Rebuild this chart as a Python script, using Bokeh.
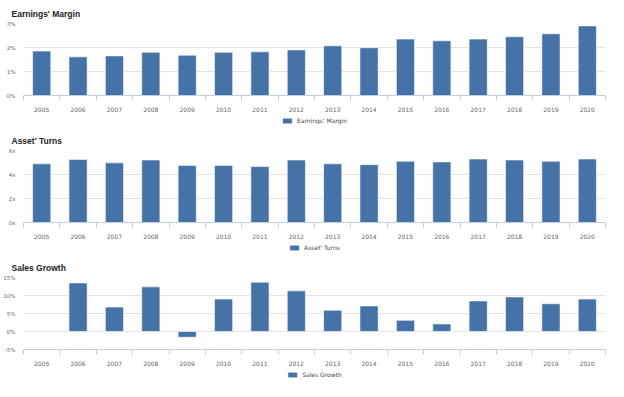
import numpy as np
from bokeh.plotting import figure
from bokeh.layouts import column
from bokeh.models import (Range1d, FixedTicker, PrintfTickFormatter, Legend, LegendItem)
from bokeh.embed import file_html
from bokeh.resources import INLINE

years = ["2005", "2006", "2007", "2008", "2009", "2010", "2011", "2012",
         "2013", "2014", "2015", "2016", "2017", "2018", "2019", "2020"]
earnings_margin = [1.85, 1.61, 1.65, 1.80, 1.68, 1.80, 1.82, 1.90,
                   2.07, 1.99, 2.35, 2.28, 2.35, 2.45, 2.57, 2.90]
asset_turns = [4.89, 5.26, 4.97, 5.21, 4.76, 4.76, 4.66, 5.21,
               4.89, 4.82, 5.10, 5.05, 5.29, 5.21, 5.10, 5.29]
sales_growth = [float("nan"), 13.5, 6.8, 12.4, -1.6, 9.0, 13.7, 11.3,
                5.9, 7.1, 3.1, 2.1, 8.5, 9.6, 7.7, 9.0]

panels = [
    ("Earnings' Margin", earnings_margin, (0, 3), [0, 1, 2, 3], "%d%%"),
    ("Asset' Turns", asset_turns, (0, 6), [0, 2, 4, 6], "%dx"),
    ("Sales Growth", sales_growth, (-5, 15), [-5, 0, 5, 10, 15], "%d%%"),
]

BAR = "#4572A7"
AXIS = "#C0D0E0"
GRID = "#E3E3E3"
LABEL = "#666666"
FONT = "DejaVu Sans"
W, H, LH = 608, 114, 13
LEFT, RIGHT, TOP, BOTTOM = 12, 3, 23, 16

rows = []
for title, vals, yr, yticks, fmt in panels:
    idx = list(range(len(years)))
    p = figure(width=W, height=H, output_backend="svg", toolbar_location=None,
               x_range=Range1d(-0.5, len(years) - 0.5), y_range=Range1d(*yr),
               min_border_left=LEFT, min_border_right=RIGHT,
               min_border_top=TOP, min_border_bottom=BOTTOM, title=title)
    p.outline_line_color = None
    p.title.text_font = "Liberation Sans"
    p.title.text_font_size = "8.5px"
    p.title.text_font_style = "bold"
    p.title.text_color = "#222222"
    p.title.offset = -12

    bar_style = dict(width=0.5, fill_color=BAR, line_color="#ffffff",
                     line_alpha=0.6, line_width=1)
    p.vbar(x=idx, top=vals, bottom=0, **bar_style)

    xa = p.xaxis[0]
    xa.ticker = FixedTicker(ticks=idx, minor_ticks=[i - 0.5 for i in range(len(years) + 1)])
    xa.major_label_overrides = {i: y for i, y in enumerate(years)}
    xa.axis_line_color = AXIS
    xa.major_tick_line_color = None
    xa.minor_tick_line_color = AXIS
    xa.minor_tick_out = 5
    xa.minor_tick_in = 0
    xa.major_label_text_font = FONT
    xa.major_label_text_font_size = "6px"
    xa.major_label_text_color = LABEL
    xa.major_label_standoff = 5

    ya = p.yaxis[0]
    ya.ticker = FixedTicker(ticks=yticks)
    ya.formatter = PrintfTickFormatter(format=fmt)
    ya.axis_line_color = None
    ya.major_tick_line_color = None
    ya.minor_tick_line_color = None
    ya.major_label_text_font = FONT
    ya.major_label_text_font_size = "5.5px"
    ya.major_label_text_color = LABEL
    ya.major_label_standoff = 2

    p.xgrid.grid_line_color = None
    p.ygrid.grid_line_color = GRID
    p.ygrid.ticker = FixedTicker(ticks=yticks)

    # legend strip below the chart (its series lies outside the strip's visible range)
    lg = figure(width=W, height=LH, output_backend="svg", toolbar_location=None,
                x_axis_type=None, y_axis_type=None,
                x_range=Range1d(-0.5, len(years) - 0.5), y_range=Range1d(1e6, 1e6 + 1),
                min_border_left=0, min_border_right=0, min_border_top=0, min_border_bottom=0)
    lg.outline_line_color = None
    lg.xgrid.grid_line_color = None
    lg.ygrid.grid_line_color = None
    series = lg.vbar(x=idx, top=vals, bottom=0, **bar_style)
    leg = Legend(items=[LegendItem(label=title, renderers=[series], index=1)],
                 orientation="horizontal", location="center",
                 label_text_font=FONT, label_text_font_size="6px",
                 label_text_color="#444444", glyph_width=12, glyph_height=7,
                 label_standoff=4, padding=0, margin=0, spacing=0,
                 label_height=8, border_line_color=None, background_fill_alpha=0)
    lg.add_layout(leg)
    rows.extend([p, lg])

layout = column(*rows, spacing=0)
open("out.html", "w").write(file_html(layout, INLINE))
